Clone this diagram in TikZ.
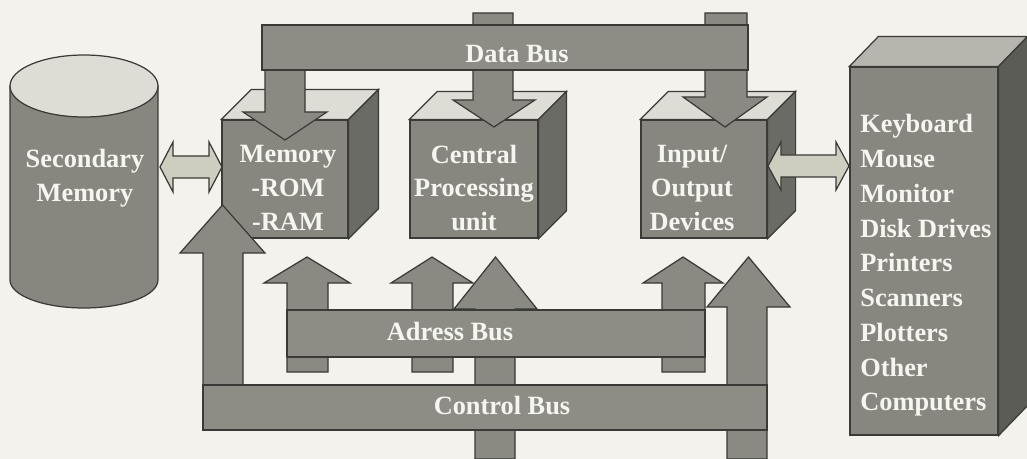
\documentclass[tikz,border=0pt]{standalone}
\usepackage{fontspec}
\setmainfont{Liberation Serif}
\usetikzlibrary{calc}
\definecolor{bgC}{HTML}{F3F2EC}
\definecolor{lineC}{HTML}{3A3A36}
\definecolor{frontC}{HTML}{87877F}
\definecolor{sideC}{HTML}{6B6B66}
\definecolor{topC}{HTML}{DEDDD5}
\definecolor{topP}{HTML}{B6B6AE}
\definecolor{sideP}{HTML}{5C5C57}
\definecolor{barC}{HTML}{8D8D86}
\definecolor{arrC}{HTML}{8A8A83}
\definecolor{dblC}{HTML}{CDCDC0}
\definecolor{txtC}{HTML}{F6F6F0}
\newcommand{\blockarr}[7]{% xl,xr,ystart,ybase,hl,hr,ytip
  \filldraw[outl, fill=arrC] (#1,#3) -- (#1,#4) -- (#5,#4) -- ({(#5+#6)/2},#7) -- (#6,#4) -- (#2,#4) -- (#2,#3) -- cycle;}
\newcommand{\dblarr}[6]{% xl,xr,yc,headlen,headhalf,shafthalf
  \filldraw[outl, fill=dblC] (#1,#3) -- (#1+#4,#3-#5) -- (#1+#4,#3-#6) -- (#2-#4,#3-#6) -- (#2-#4,#3-#5) -- (#2,#3) -- (#2-#4,#3+#5) -- (#2-#4,#3+#6) -- (#1+#4,#3+#6) -- (#1+#4,#3+#5) -- cycle;}
\newcommand{\cubefaces}[2]{% node name, depth
  \filldraw[outl, fill=topC] (#1.north west) -- ++(#2,-#2) -- ($(#1.north east)+(#2,-#2)$) -- (#1.north east) -- cycle;
  \filldraw[outl, fill=sideC] (#1.north east) -- ++(#2,-#2) -- ($(#1.south east)+(#2,-#2)$) -- (#1.south east) -- cycle;}
\begin{document}
\begin{tikzpicture}[x=0.02cm,y=-0.02cm,line join=miter,
  outl/.style={draw=lineC, line width=0.7pt},
  front/.style={outl, fill=frontC, rectangle, inner sep=0pt},
  bar/.style={outl, fill=barC, rectangle, inner sep=0pt},
  lbl/.style={text=txtC, font=\fontsize{15}{19.3}\selectfont\bfseries, align=center, inner sep=0pt},
  list/.style={text=txtC, font=\fontsize{15}{19.8}\selectfont\bfseries, align=left, inner sep=0pt}]
\useasboundingbox[fill=bgC] (0,0) rectangle (1027,459);

% secondary memory cylinder
\filldraw[outl, fill=frontC] (10,86) -- (10,280) arc[start angle=180, end angle=360, x radius=1.48cm, y radius=0.56cm] -- (158,86) -- cycle;
\filldraw[outl, fill=topC] (84,86) ellipse[x radius=1.48cm, y radius=0.62cm];

% cubes
\node[front, minimum width=2.52cm, minimum height=2.36cm] (mem) at (285,179) {};
\cubefaces{mem}{30}
\node[front, minimum width=2.56cm, minimum height=2.36cm] (cpu) at (474,179) {};
\cubefaces{cpu}{28}
\node[front, minimum width=2.52cm, minimum height=2.36cm] (io) at (704,179) {};
\cubefaces{io}{28}
\node[front, minimum width=2.96cm, minimum height=7.36cm] (per) at (924,251) {};
\filldraw[outl, fill=topP] (per.north west) -- ++(29,-30) -- ($(per.north east)+(29,-30)$) -- (per.north east) -- cycle;
\filldraw[outl, fill=sideP] (per.north east) -- ++(29,-30) -- ($(per.south east)+(29,-30)$) -- (per.south east) -- cycle;

% double arrows
\dblarr{160}{222}{167}{13}{25}{11}
\dblarr{768}{849}{166}{13}{24}{11}

% data bus arrows
\blockarr{265}{305}{60}{112}{243}{327}{140}
\blockarr{473}{513}{13}{100}{453}{535}{127}
\blockarr{705}{747}{13}{97}{683}{767}{127}
\node[bar, minimum width=9.72cm, minimum height=0.9cm] (databus) at (505,47.5) {};

% address bus arrows
\blockarr{287}{328}{372}{283}{264}{350}{257}
\blockarr{412}{453}{372}{283}{391}{473}{257}
\blockarr{662}{705}{372}{283}{643}{723}{257}

% control bus arrows
\blockarr{203}{243}{400}{253}{180}{265}{205}
\blockarr{475}{515}{459}{309}{454}{537}{257}
\blockarr{727}{767}{459}{307}{707}{790}{257}

\node[bar, minimum width=8.36cm, minimum height=0.94cm] (adrbus) at (496,333.5) {};
\node[bar, minimum width=11.28cm, minimum height=0.9cm] (ctlbus) at (485,407.5) {};

% labels
\node[lbl] (sectxt) at (85,178) {Secondary\\Memory};
\node[lbl] (memtxt) at (288,188) {Memory\\-ROM\\-RAM};
\node[lbl] (cputxt) at (474,188) {Central\\Processing\\unit};
\node[lbl] (iotxt) at (692,188) {Input/\\Output\\Devices};
\node[list, anchor=north west] (pertxt) at (860,114) {Keyboard\\Mouse\\Monitor\\Disk Drives\\Printers\\Scanners\\Plotters\\Other\\Computers};
\node[lbl] (datatxt) at (517,54) {Data Bus};
\node[lbl] (adrtxt) at (450,332) {Adress Bus};
\node[lbl] (ctltxt) at (502,406) {Control Bus};
\end{tikzpicture}
\end{document}
